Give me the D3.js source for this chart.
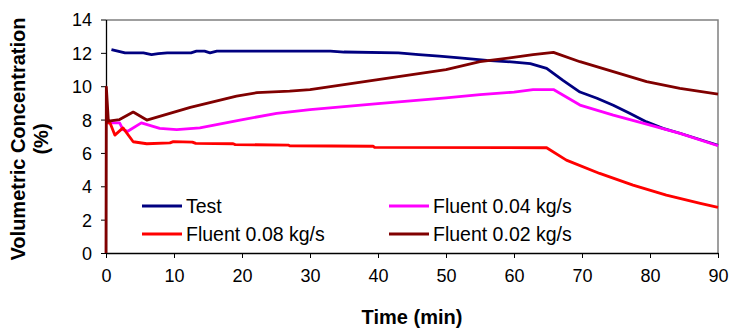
<!DOCTYPE html>
<html>
<head>
<meta charset="utf-8">
<script src="https://cdn.jsdelivr.net/npm/d3@7"></script>
<style>
  body { margin: 0; background: #fff; }
  text { font-family: "Liberation Sans", Arial, sans-serif; fill: #000; }
</style>
</head>
<body>
<svg id="chart" width="729" height="331"></svg>
<script>

// values: [time (min), concentration (%)]
var testData = [[0.8,12.2],[2.8,12.0],[5.5,12.0],[6.7,11.9],[7.7,11.95],[9,12.0],[12.5,12.0],
    [13.3,12.1],[14.5,12.1],[15.3,12.0],[16.3,12.1],[20,12.1],[33,12.1],[35,12.05],[43,12.0],
    [46,11.9],[49,11.8],[52,11.7],[56,11.55],[60,11.45],[62.4,11.35],[64.8,11.07],[67.2,10.35],
    [69.7,9.65],[72.2,9.28],[74.6,8.86],[77,8.38],[79.5,7.86],[81.9,7.47],[84.4,7.18],[90,6.46]];

var fluent004 = [[0.3,7.8],[2,7.8],[2.5,7.4],[3.2,7.3],[5.2,7.8],[7.9,7.47],[10.4,7.4],[13.8,7.5],
    [19.7,7.97],[25.1,8.37],[30,8.6],[40,8.95],[50,9.3],[55,9.5],[60,9.65],[62.8,9.8],[65.8,9.8],
    [69.7,8.87],[74.6,8.27],[79.5,7.73],[84.4,7.17],[90,6.43]];

var fluent008 = [[0,7.8],[0.6,7.8],[1.3,7.07],[2.5,7.5],[4,6.67],[6,6.55],[9.4,6.6],[9.9,6.68],
    [12.7,6.65],[13.2,6.57],[18.7,6.55],[19,6.5],[26.8,6.47],[27,6.43],[39.3,6.4],[39.5,6.33],
    [64.8,6.31],[67.7,5.57],[72.6,4.77],[77.5,4.07],[82.4,3.47],[87.4,2.97],[90,2.73]];

var fluent002 = [[0,0],[0.05,9.95],[0.35,7.9],[2,8.0],[4,8.45],[6,7.97],[12.4,8.73],[19.2,9.41],
    [22.2,9.61],[27,9.71],[30,9.8],[40,10.4],[50,11.0],[55,11.47],[59.9,11.73],[62.8,11.9],
    [65.8,12.03],[69.7,11.47],[74.6,10.87],[79.5,10.27],[84.4,9.87],[90,9.53]];

var seriesNames  = ["Test", "Fluent 0.04 kg/s", "Fluent 0.08 kg/s", "Fluent 0.02 kg/s"];
var seriesColors = ["#000080", "#ff00ff", "#ff0000", "#800000"];
var seriesData   = [testData, fluent004, fluent008, fluent002];

var xTicks = [0,10,20,30,40,50,60,70,80,90];
var yTicks = [0,2,4,6,8,10,12,14];

var svg = d3.select("#chart");
var margin = {left: 106, right: 11, top: 19.5, bottom: 78};
var width  = +svg.attr("width")  - margin.left - margin.right,
    height = +svg.attr("height") - margin.top  - margin.bottom;

var x = d3.scaleLinear().domain([0, 90]).range([0, width]);
var y = d3.scaleLinear().domain([0, 14]).range([height, 0]);

var g = svg.append("g").attr("transform", "translate(" + margin.left + "," + margin.top + ")");

// grey frame on top and right
g.append("path")
    .attr("d", "M0,0.5H" + width + "V" + height)
    .attr("fill", "none").attr("stroke", "#808080").attr("stroke-width", 1.5);

var yAx = g.append("g")
    .call(d3.axisLeft(y).tickValues(yTicks).tickSize(5).tickPadding(9).tickSizeOuter(0));
var xAx = g.append("g")
    .attr("transform", "translate(0," + height + ")")
    .call(d3.axisBottom(x).tickValues(xTicks).tickSize(5).tickPadding(9).tickSizeOuter(0));

[yAx, xAx].forEach(function(ax) {
    ax.select(".domain").attr("stroke", "#000").attr("stroke-width", 1.3);
    ax.selectAll(".tick line").attr("stroke", "#000");
    ax.selectAll(".tick text").style("font-size", "18px").attr("font-family", null);
});
yAx.selectAll(".tick text").attr("dy", "0.36em");
xAx.selectAll(".tick text").attr("dy", "0.85em");

var line = d3.line().x(function(d) { return x(d[0]); }).y(function(d) { return y(d[1]); });

seriesData.forEach(function(ds, i) {
    g.append("path")
        .datum(ds)
        .attr("d", line)
        .attr("fill", "none")
        .attr("stroke", seriesColors[i])
        .attr("stroke-width", 2.8)
        .attr("stroke-linejoin", "round");
});

// legend, two columns
var legPos = [[142, 206], [389, 206], [142, 234], [389, 234]];
seriesNames.forEach(function(name, i) {
    var lg = svg.append("g").attr("transform", "translate(" + legPos[i][0] + "," + legPos[i][1] + ")");
    lg.append("line").attr("x1", 0).attr("x2", 40).attr("y1", 0).attr("y2", 0)
        .attr("stroke", seriesColors[i]).attr("stroke-width", 2.8);
    lg.append("text").attr("x", 44).attr("y", 7).style("font-size", "19.5px").text(name);
});

// axis titles
svg.append("text")
    .attr("x", margin.left + width / 2).attr("y", 324)
    .attr("text-anchor", "middle").style("font-size", "20px").style("font-weight", "bold")
    .text("Time (min)");

var yt = svg.append("text")
    .attr("transform", "translate(0,139) rotate(-90)")
    .attr("text-anchor", "middle").style("font-size", "20px").style("font-weight", "bold");
yt.append("tspan").attr("x", 0).attr("y", 25).text("Volumetric Concentration");
yt.append("tspan").attr("x", 0).attr("y", 48).text("(%)");

</script>
</body>
</html>
